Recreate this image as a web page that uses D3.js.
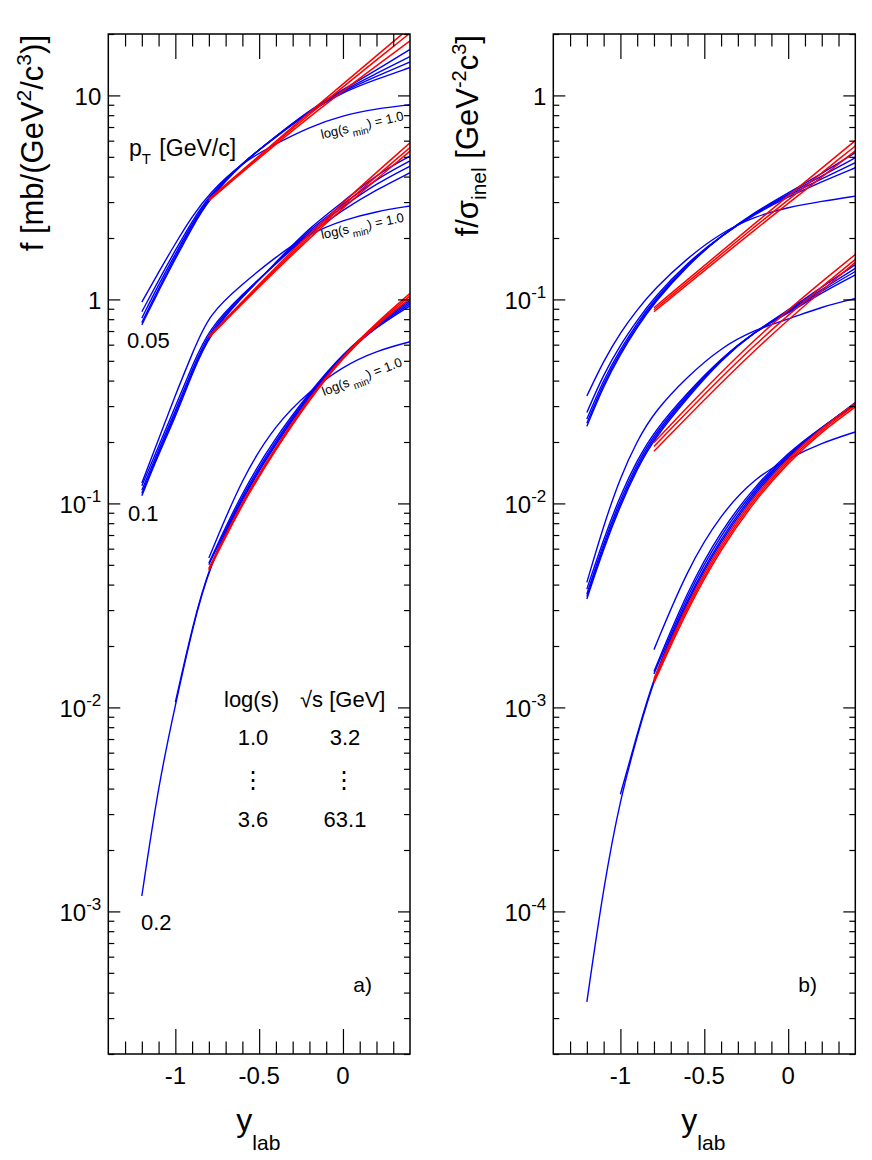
<!DOCTYPE html>
<html>
<head>
<meta charset="utf-8">
<script src="https://cdn.jsdelivr.net/npm/d3@7"></script>
<style>
  body { margin: 0; background: #fff; }
  text { font-family: "Liberation Sans", Arial, Helvetica, sans-serif; fill: #000; }
</style>
</head>
<body>
<div id="chart"></div>
<script>
// y_lab grid where the curves were read
var yLab = [-1.2, -1.1, -1.0, -0.9, -0.8, -0.6, -0.4, -0.2, 0, 0.2, 0.4];

// panel a) f [mb/(GeV^2/c^3)] -- first blue row is log(s_min) = 1.0
var aBlue005 = [
    [0.97, 1.36, 1.88, 2.55, 3.30, 4.70, 5.80, 7.00, 8.00, 8.60, 9.00],
    [0.87, 1.24, 1.74, 2.42, 3.22, 4.70, 6.25, 8.30, 10.4, 12.0, 13.7],
    [0.81, 1.18, 1.67, 2.35, 3.17, 4.68, 6.28, 8.35, 10.5, 12.4, 14.6],
    [0.77, 1.13, 1.62, 2.30, 3.13, 4.67, 6.30, 8.40, 10.6, 12.8, 15.5],
    [0.75, 1.10, 1.58, 2.25, 3.10, 4.66, 6.32, 8.45, 10.7, 13.3, 16.8]
];
var aRed005 = [
    [null, null, null, null, 3.10, null, null, 8.30, null, null, 21.5],
    [null, null, null, null, 3.08, null, null, 8.15, null, null, 20.2],
    [null, null, null, null, 3.05, null, null, 8.00, null, null, 18.5]
];
var aBlue01 = [
    [0.126, 0.206, 0.340, 0.540, 0.85, 1.19, 1.62, 2.10, 2.45, 2.70, 2.87],
    [0.122, 0.190, 0.300, 0.471, 0.72, 1.06, 1.50, 2.10, 2.75, 3.45, 4.18],
    [0.116, 0.183, 0.285, 0.450, 0.70, 1.05, 1.50, 2.15, 2.85, 3.70, 4.50],
    [0.112, 0.178, 0.275, 0.437, 0.68, 1.04, 1.51, 2.20, 2.92, 3.90, 4.77],
    [0.109, 0.174, 0.265, 0.430, 0.67, 1.03, 1.52, 2.25, 3.00, 4.10, 5.04]
];
var aRed01 = [
    [null, null, null, null, 0.660, null, null, 2.15, null, null, 5.86],
    [null, null, null, null, 0.655, null, null, 2.10, null, null, 5.55],
    [null, null, null, null, 0.650, null, null, 2.05, null, null, 5.33]
];
var aBlue02 = [
    [null, null, null, null, 0.054, 0.135, 0.245, 0.355, 0.470, 0.560, 0.620],
    [0.00119, 0.0042, 0.0103, 0.024, 0.049, 0.106, 0.197, 0.335, 0.530, 0.735, 0.93],
    [null, null, 0.0106, 0.0245, 0.0495, 0.108, 0.200, 0.340, 0.535, 0.740, 0.95],
    [null, null, null, null, 0.050, 0.111, 0.205, 0.345, 0.540, 0.745, 0.97],
    [null, null, null, null, 0.051, 0.115, 0.212, 0.350, 0.545, 0.750, 0.99]
];
var aRed02 = [
    [null, null, null, null, 0.0480, 0.103, 0.190, 0.330, 0.530, 0.770, 1.07],
    [null, null, null, null, 0.0475, 0.101, 0.187, 0.327, 0.525, 0.760, 1.04],
    [null, null, null, null, 0.0470, 0.100, 0.185, 0.323, 0.520, 0.750, 1.01]
];

// panel b) f/sigma_inel [GeV^-2 c^3]
var bBlue005 = [
    [0.0336, 0.050, 0.069, 0.089, 0.112, 0.160, 0.212, 0.255, 0.283, 0.303, 0.321],
    [0.0279, 0.043, 0.060, 0.079, 0.102, 0.152, 0.205, 0.262, 0.318, 0.378, 0.442],
    [0.0259, 0.0405, 0.057, 0.0765, 0.0995, 0.150, 0.205, 0.264, 0.323, 0.390, 0.468],
    [0.0247, 0.039, 0.0553, 0.0745, 0.0975, 0.148, 0.205, 0.266, 0.328, 0.402, 0.495],
    [0.0239, 0.0378, 0.054, 0.073, 0.096, 0.147, 0.205, 0.268, 0.333, 0.414, 0.524]
];
var bRed005 = [
    [null, null, null, null, 0.091, null, null, 0.236, null, null, 0.600],
    [null, null, null, null, 0.089, null, null, 0.228, null, null, 0.565],
    [null, null, null, null, 0.087, null, null, 0.220, null, null, 0.535]
];
var bBlue01 = [
    [0.0041, 0.0078, 0.0135, 0.0203, 0.0280, 0.0420, 0.0580, 0.0710, 0.0800, 0.092, 0.101],
    [0.0038, 0.0067, 0.0110, 0.0163, 0.0225, 0.0350, 0.0515, 0.0695, 0.0855, 0.108, 0.132],
    [0.0036, 0.0064, 0.0105, 0.0157, 0.0218, 0.0343, 0.0512, 0.0695, 0.0865, 0.110, 0.137],
    [0.0035, 0.0062, 0.0101, 0.0152, 0.0212, 0.0337, 0.0509, 0.0695, 0.0875, 0.112, 0.142],
    [0.0034, 0.0060, 0.0098, 0.0148, 0.0207, 0.0330, 0.0505, 0.0695, 0.0885, 0.115, 0.148]
];
var bRed01 = [
    [null, null, null, null, 0.0199, null, null, 0.066, null, null, 0.166],
    [null, null, null, null, 0.0190, null, null, 0.062, null, null, 0.157],
    [null, null, null, null, 0.0180, null, null, 0.058, null, null, 0.152]
];
var bBlue02 = [
    [null, null, null, null, 0.00192, 0.0048, 0.0089, 0.0133, 0.0166, 0.0198, 0.0224],
    [3.6e-5, 1.33e-4, 3.6e-4, 7.2e-4, 0.00140, 0.00335, 0.0066, 0.0112, 0.0170, 0.0234, 0.0312],
    [null, null, 3.75e-4, 7.4e-4, 0.00143, 0.00345, 0.0068, 0.0115, 0.0173, 0.0235, 0.0310],
    [null, null, null, null, 0.00146, 0.00360, 0.0071, 0.0118, 0.0175, 0.0236, 0.0308],
    [null, null, null, null, 0.00150, 0.00375, 0.0074, 0.0121, 0.0178, 0.0237, 0.0305]
];
var bRed02 = [
    [null, null, null, null, 0.00138, 0.00325, 0.0064, 0.0109, 0.0167, 0.0235, 0.0310],
    [null, null, null, null, 0.00135, 0.00315, 0.0062, 0.0106, 0.0163, 0.0230, 0.0303],
    [null, null, null, null, 0.00132, 0.00305, 0.0060, 0.0103, 0.0159, 0.0225, 0.0297]
];

// axis ticks and labels
var xMajor = [-1, -0.5, 0];
var xMajorLabels = ["-1", "-0.5", "0"];
var yMajorA = [1e-3, 1e-2, 1e-1, 1, 10];
var yMajorB = [1e-4, 1e-3, 1e-2, 1e-1, 1];
var ptLabels = ["0.05", "0.1", "0.2"];
var legendLogS = ["1.0", "3.6"];
var legendSqrtS = ["3.2", "63.1"];

// svg area
var svgWidth = 872;
var svgHeight = 1160;
var frameTop = 34;
var frameBottom = 1054;

var svg = d3.select("#chart")
    .append("svg")
    .attr("width", svgWidth)
    .attr("height", svgHeight);

function minorTicks(domain) {
    var out = [];
    var lo = Math.floor(Math.log10(domain[0])), hi = Math.ceil(Math.log10(domain[1]));
    for (var e = lo; e <= hi; e++) {
        for (var k = 2; k <= 9; k++) {
            var v = k * Math.pow(10, e);
            if (v >= domain[0] && v <= domain[1]) out.push(v);
        }
    }
    return out;
}

// label like 10^-2 with a superscript
function powLabel(sel, v) {
    var e = Math.round(Math.log10(v));
    if (e === 0) { sel.text("1"); return; }
    if (e === 1) { sel.text("10"); return; }
    sel.append("tspan").text("10");
    sel.append("tspan").attr("dy", -11).attr("font-size", 17).text(e);
}

function drawPanel(p) {
    var x = d3.scaleLinear().domain([-1.4, 0.4]).range([p.left, p.right]);
    var y = d3.scaleLog().domain(p.domain).range([frameBottom, frameTop]);

    var clipId = "clip" + p.name;
    svg.append("clipPath").attr("id", clipId)
        .append("rect")
        .attr("x", p.left).attr("y", frameTop)
        .attr("width", p.right - p.left).attr("height", frameBottom - frameTop);

    var line = d3.line()
        .x(d => x(d[0]))
        .y(d => y(d[1]))
        .curve(d3.curveBasis);

    function toPts(row) {
        return yLab.map((v, i) => [v, row[i]]).filter(d => d[1] != null);
    }

    var curves = svg.append("g").attr("clip-path", "url(#" + clipId + ")");

    p.blue.forEach(function(set) {
        curves.append("g").selectAll("path")
            .data(set)
            .enter()
            .append("path")
            .attr("d", d => line(toPts(d)))
            .attr("fill", "none")
            .attr("stroke", "#0000ff")
            .attr("stroke-width", 1.4);
    });
    p.red.forEach(function(set) {
        curves.append("g").selectAll("path")
            .data(set)
            .enter()
            .append("path")
            .attr("d", d => line(toPts(d)))
            .attr("fill", "none")
            .attr("stroke", "#ff0000")
            .attr("stroke-width", 1.5);
    });

    // ticks, pointing inside the frame
    var xMinor = d3.range(-13, 4).map(d => d / 10).filter(d => xMajor.indexOf(d) < 0);
    var yMinor = minorTicks(p.domain);
    var tickGroups = [
        [d3.axisBottom(x).tickValues(xMajor).tickSize(-25), `translate(0,${frameBottom})`],
        [d3.axisBottom(x).tickValues(xMinor).tickSize(-12.5), `translate(0,${frameBottom})`],
        [d3.axisTop(x).tickValues(xMajor).tickSize(-25), `translate(0,${frameTop})`],
        [d3.axisTop(x).tickValues(xMinor).tickSize(-12.5), `translate(0,${frameTop})`],
        [d3.axisLeft(y).tickValues(p.yMajor).tickSize(-12), `translate(${p.left},0)`],
        [d3.axisLeft(y).tickValues(yMinor).tickSize(-6), `translate(${p.left},0)`],
        [d3.axisRight(y).tickValues(p.yMajor).tickSize(-12), `translate(${p.right},0)`],
        [d3.axisRight(y).tickValues(yMinor).tickSize(-6), `translate(${p.right},0)`]
    ];
    tickGroups.forEach(function(t) {
        var g = svg.append("g").attr("transform", t[1]).call(t[0].tickFormat(""));
        g.select(".domain").remove();
        g.selectAll("line").attr("stroke", "#000").attr("stroke-width", 1.2);
    });

    svg.append("rect")
        .attr("x", p.left).attr("y", frameTop)
        .attr("width", p.right - p.left).attr("height", frameBottom - frameTop)
        .attr("fill", "none").attr("stroke", "#000").attr("stroke-width", 1.5);

    // tick labels
    svg.append("g").selectAll("text")
        .data(xMajor)
        .enter()
        .append("text")
        .attr("x", d => x(d))
        .attr("y", frameBottom + 30)
        .attr("text-anchor", "middle")
        .attr("font-size", 24)
        .text((d, i) => xMajorLabels[i]);

    p.yMajor.forEach(function(v) {
        var t = svg.append("text")
            .attr("x", p.left - 7)
            .attr("y", y(v) + 10)
            .attr("text-anchor", "end")
            .attr("font-size", 24);
        powLabel(t, v);
    });

    // x title
    var xt = svg.append("text")
        .attr("x", p.left + 128)
        .attr("y", 1131)
        .attr("font-size", 32);
    xt.append("tspan").text("y");
    xt.append("tspan").attr("dy", 19).attr("font-size", 21).text("lab");

    svg.append("text")
        .attr("x", p.left + 245)
        .attr("y", 992)
        .attr("font-size", 21)
        .text(p.tag);

    return {x: x, y: y};
}

var pa = drawPanel({
    name: "a", left: 108.3, right: 410, domain: [2e-4, 20], yMajor: yMajorA,
    blue: [aBlue005, aBlue01, aBlue02], red: [aRed005, aRed01, aRed02], tag: "a)"
});
var pb = drawPanel({
    name: "b", left: 553.3, right: 855.3, domain: [2e-5, 2], yMajor: yMajorB,
    blue: [bBlue005, bBlue01, bBlue02], red: [bRed005, bRed01, bRed02], tag: "b)"
});

// y titles
var ta = svg.append("text")
    .attr("transform", `translate(43, ${frameTop + 1}) rotate(-90)`)
    .attr("text-anchor", "end")
    .attr("font-size", 31);
ta.append("tspan").text("f [mb/(GeV");
ta.append("tspan").attr("dy", -12).attr("font-size", 21).text("2");
ta.append("tspan").attr("dy", 12).text("/c");
ta.append("tspan").attr("dy", -12).attr("font-size", 21).text("3");
ta.append("tspan").attr("dy", 12).text(")]");

var tb = svg.append("text")
    .attr("transform", `translate(478, ${frameTop + 1}) rotate(-90)`)
    .attr("text-anchor", "end")
    .attr("font-size", 31);
tb.append("tspan").text("f/σ");
tb.append("tspan").attr("dy", 8).attr("font-size", 21).text("inel");
tb.append("tspan").attr("dy", -8).text(" [GeV");
tb.append("tspan").attr("dy", -12).attr("font-size", 20).text("-2");
tb.append("tspan").attr("dy", 12).text("c");
tb.append("tspan").attr("dy", -12).attr("font-size", 20).text("3");
tb.append("tspan").attr("dy", 12).text("]");

// p_T labels in panel a
var ptPos = [[127, 348], [128, 521], [141, 930]];
svg.append("g").selectAll("text")
    .data(ptLabels)
    .enter()
    .append("text")
    .attr("x", (d, i) => ptPos[i][0])
    .attr("y", (d, i) => ptPos[i][1])
    .attr("font-size", 22)
    .text(d => d);

var pt = svg.append("text").attr("x", 129).attr("y", 156).attr("font-size", 23);
pt.append("tspan").text("p");
pt.append("tspan").attr("dy", 8).attr("font-size", 15).text("T");
pt.append("tspan").attr("dy", -8).attr("dx", 2).text(" [GeV/c]");

// log(s_min) = 1.0 tags along the lowest-energy curves
[[322, 139, -13], [322, 239, -12], [324, 396, -21]].forEach(function(q) {
    var t = svg.append("text")
        .attr("transform", `translate(${q[0]},${q[1]}) rotate(${q[2]})`)
        .attr("font-size", 13);
    t.append("tspan").text("log(s");
    t.append("tspan").attr("dx", 3).attr("dy", 5).attr("font-size", 10).text("min");
    t.append("tspan").attr("dy", -5).text(") = 1.0");
});

// energy legend
svg.append("text").attr("x", 224).attr("y", 707).attr("font-size", 22).text("log(s)");
svg.append("text").attr("x", 300).attr("y", 707).attr("font-size", 22).text("√s [GeV]");
var legRows = [745, 827];
legendLogS.forEach(function(v, i) {
    svg.append("text").attr("x", 253).attr("y", legRows[i])
        .attr("text-anchor", "middle").attr("font-size", 22).text(v);
    svg.append("text").attr("x", 345).attr("y", legRows[i])
        .attr("text-anchor", "middle").attr("font-size", 22).text(legendSqrtS[i]);
});
[253, 344].forEach(function(cx) {
    svg.append("text").attr("x", cx).attr("y", 788)
        .attr("text-anchor", "middle")
        .attr("font-size", 24)
        .style("font-family", "'DejaVu Sans', sans-serif")
        .text("⋮");
});
</script>
</body>
</html>
